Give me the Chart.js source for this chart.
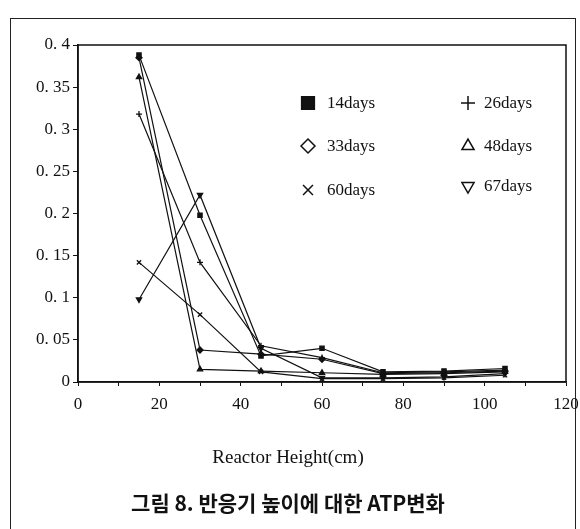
<!DOCTYPE html>
<html>
<head>
<meta charset="utf-8">
<script src="https://cdn.jsdelivr.net/npm/chart.js@4.4.1/dist/chart.umd.min.js"></script>
<style>
  html, body { margin: 0; padding: 0; background: #fff; }
  #wrap { position: relative; width: 580px; height: 529px; overflow: hidden; }
  #frame {
    position: absolute; left: 10px; top: 18px; width: 564px; height: 600px;
    border-left: 1.5px solid #222; border-top: 1.5px solid #222; border-right: 1.5px solid #222;
  }
  canvas { position: absolute; left: 0; top: 0; }
</style>
</head>
<body>
<div id="wrap">
  <div id="frame"></div>
  <canvas id="c" width="580" height="529"></canvas>
</div>
<script>
// 반응기 높이(cm)
const heights = [15, 30, 45, 60, 75, 90, 105];

const seriesLabels = ['14days', '26days', '33days', '48days', '60days', '67days'];
const d14 = [0.388, 0.198, 0.031, 0.040, 0.012, 0.013, 0.016];
const d26 = [0.318, 0.142, 0.043, 0.029, 0.011, 0.012, 0.014];
const d33 = [0.385, 0.038, 0.033, 0.027, 0.010, 0.011, 0.013];
const d48 = [0.362, 0.015, 0.013, 0.011, 0.009, 0.010, 0.012];
const d60 = [0.142, 0.080, 0.012, 0.004, 0.004, 0.005, 0.008];
const d67 = [0.098, 0.222, 0.040, 0.005, 0.005, 0.006, 0.010];

const SERIF = "'Liberation Serif', 'DejaVu Serif', serif";

const markers = [
  { pointStyle: 'rect', rotation: 0, fill: true },
  { pointStyle: 'cross', rotation: 0, fill: false },
  { pointStyle: 'rectRot', rotation: 0, fill: false },
  { pointStyle: 'triangle', rotation: 0, fill: false },
  { pointStyle: 'crossRot', rotation: 0, fill: false },
  { pointStyle: 'triangle', rotation: 180, fill: false },
];

const allValues = [d14, d26, d33, d48, d60, d67];

function toPoints(values) {
  return values.map((v, i) => ({ x: heights[i], y: v }));
}

const datasets = allValues.map((vals, i) => ({
  label: seriesLabels[i],
  data: toPoints(vals),
  borderColor: '#111',
  backgroundColor: '#111',
  borderWidth: 1.2,
  pointStyle: markers[i].pointStyle,
  rotation: markers[i].rotation,
  pointRadius: 3,
  pointBorderWidth: 1.3,
  tension: 0,
}));

// 플롯 테두리 + 범례 (그림 안쪽 2열 배치)
const framePlugin = {
  id: 'frameAndLegend',
  afterDraw(chart) {
    const { ctx, chartArea } = chart;
    ctx.save();
    ctx.strokeStyle = '#111';
    ctx.lineWidth = 1.5;
    ctx.strokeRect(chartArea.left, chartArea.top, chartArea.right - chartArea.left, chartArea.bottom - chartArea.top);

    const cols = [308, 468];
    const rows = [103, 146, 190];
    ctx.font = '17px ' + SERIF;
    ctx.textBaseline = 'middle';
    seriesLabels.forEach((lab, i) => {
      const col = i % 2;
      const row = Math.floor(i / 2);
      const x = cols[col];
      let y = rows[row];
      if (i === 5) y -= 4;
      const m = markers[i];
      ctx.strokeStyle = '#111';
      ctx.fillStyle = m.fill ? '#111' : 'rgba(0,0,0,0)';
      ctx.lineWidth = 1.5;
      const r = m.pointStyle === 'rect' ? 9 : 7;
      Chart.helpers.drawPoint(ctx, { pointStyle: m.pointStyle, rotation: m.rotation, radius: r, borderWidth: 1.5 }, x, y);
      ctx.fillStyle = '#111';
      ctx.fillText(lab, x + (col === 0 ? 19 : 16), y + 1);
    });
    ctx.restore();
  },
};

new Chart(document.getElementById('c'), {
  type: 'line',
  data: { datasets },
  options: {
    responsive: false,
    animation: false,
    layout: { padding: { top: 45, right: 4, left: 0, bottom: 13 } },
    plugins: {
      legend: { display: false },
      tooltip: { enabled: false },
      title: {
        display: true,
        position: 'bottom',
        text: '그림 8. 반응기 높이에 대한 ATP변화',
        color: '#111',
        font: { family: "'Noto Sans CJK KR', sans-serif", size: 21, weight: 'bold' },
        padding: { top: 21, bottom: 0 },
      },
      subtitle: {
        display: true,
        position: 'bottom',
        text: 'Reactor Height(cm)',
        color: '#111',
        font: { family: SERIF, size: 19 },
        padding: { top: 0, bottom: 0 },
      },
    },
    scales: {
      x: {
        type: 'linear',
        min: 0,
        max: 120,
        afterFit: s => { s.height = 65; s.paddingRight = 14; },
        ticks: {
          stepSize: 10,
          autoSkip: false,
          maxRotation: 0,
          color: '#111',
          font: { family: SERIF, size: 17 },
          padding: 8,
          callback: v => (v % 20 === 0 ? String(v) : ''),
        },
        grid: { drawOnChartArea: false, tickLength: 4, color: '#111' },
        border: { color: '#111', width: 1.5 },
      },
      y: {
        min: 0,
        max: 0.4,
        afterFit: s => { s.width = 78; },
        ticks: {
          stepSize: 0.05,
          color: '#111',
          font: { family: SERIF, size: 17 },
          padding: 3,
          callback: v => String(+v.toFixed(2)).replace('.', '. '),
        },
        grid: { drawOnChartArea: false, tickLength: 5, color: '#111' },
        border: { color: '#111', width: 1.5 },
      },
    },
  },
  plugins: [framePlugin],
});
</script>
</body>
</html>
